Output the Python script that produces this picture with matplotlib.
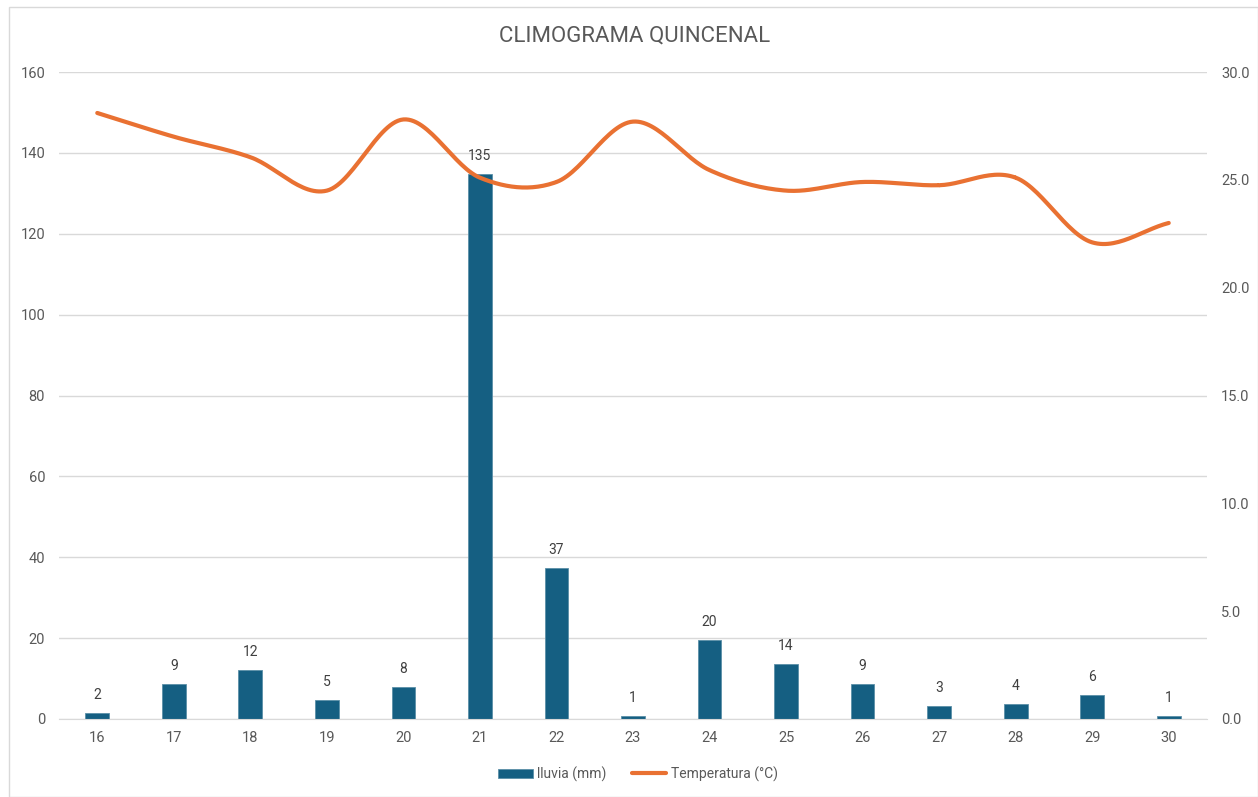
import numpy as np
import matplotlib
matplotlib.use("Agg")
import matplotlib.pyplot as plt
from matplotlib.patches import Rectangle

# datos
dias = ["16", "17", "18", "19", "20", "21", "22", "23", "24", "25", "26", "27", "28", "29", "30"]
lluvia = [1.5, 8.6, 12.0, 4.6, 7.8, 134.8, 37.3, 0.8, 19.5, 13.6, 8.6, 3.2, 3.6, 5.9, 0.8]
temperatura = [28.1, 27.0, 26.05, 24.5, 27.8, 25.1, 24.9, 27.7, 25.45, 24.5, 24.9, 24.75, 25.1, 22.1, 23.0]

azul = "#155F82"
naranja = "#E97132"
gris_txt = "#595959"
gris_lin = "#D9D9D9"

plt.rcParams['font.family'] = ['Roboto', 'DejaVu Sans']


def suavizar(x, y, n=30):
    # curva tipo Catmull-Rom (como la "línea suavizada" de Excel)
    x = np.asarray(x, float)
    y = np.asarray(y, float)
    px = np.concatenate(([2 * x[0] - x[1]], x, [2 * x[-1] - x[-2]]))
    py = np.concatenate(([2 * y[0] - y[1]], y, [2 * y[-1] - y[-2]]))
    xs, ys = [], []
    t = np.linspace(0, 1, n)
    for i in range(1, len(px) - 2):
        for p, out in ((px, xs), (py, ys)):
            p0, p1, p2, p3 = p[i - 1], p[i], p[i + 1], p[i + 2]
            out.extend(0.5 * ((2 * p1) + (-p0 + p2) * t
                              + (2 * p0 - 5 * p1 + 4 * p2 - p3) * t ** 2
                              + (-p0 + 3 * p1 - 3 * p2 + p3) * t ** 3))
    return np.array(xs), np.array(ys)


fig = plt.figure(figsize=(12.58, 7.97), dpi=100)
fig.patches.append(Rectangle((9 / 1258, 0), 1 - 9 / 1258, 1 - 7 / 797, transform=fig.transFigure,
                             fill=False, edgecolor=gris_lin, linewidth=1))

ax = fig.add_axes([59 / 1258, 1 - 719 / 797, 1148 / 1258, 647 / 797])
ax2 = ax.twinx()

x = np.arange(len(dias))
ax.bar(x, lluvia, width=0.31, color=azul, edgecolor="#5B8FA8", linewidth=0.6,
       label="lluvia (mm)", zorder=2)
for xi, v in zip(x, lluvia):
    ax.annotate(f"{v:.0f}", (xi, v), xytext=(0, 8), textcoords="offset points",
                ha="center", va="bottom", fontsize=10, color="#404040")

ax.set_xlim(-0.5, len(dias) - 0.5)
ax.set_ylim(0, 160)
ax.set_yticks(range(0, 161, 20))
ax.set_xticks(x)
ax.set_xticklabels(dias)
ax.grid(axis="y", color=gris_lin, linewidth=1, zorder=0)
ax.set_axisbelow(True)
for s in ["top", "right", "left"]:
    ax.spines[s].set_visible(False)
ax.spines["bottom"].set_color(gris_lin)
ax.tick_params(axis="both", length=0, colors=gris_txt, labelsize=10.5)
ax.tick_params(axis="y", pad=10)
ax.tick_params(axis="x", pad=9)

xs, ys = suavizar(x, temperatura)
ax2.plot(xs, ys, color=naranja, linewidth=3, solid_capstyle="round", label="Temperatura (°C)", zorder=3)
ax2.set_ylim(0, 30)
ax2.set_yticks(np.arange(0, 30.1, 5))
ax2.set_yticklabels([f"{v:.1f}" for v in np.arange(0, 30.1, 5)])
for s in ax2.spines.values():
    s.set_visible(False)
ax2.tick_params(axis="y", length=0, colors=gris_txt, labelsize=10.5, pad=10)

fig.text(635 / 1258, 1 - 36 / 797, "CLIMOGRAMA QUINCENAL", ha="center", va="center",
         fontsize=16, color=gris_txt)

h1, l1 = ax.get_legend_handles_labels()
h2, l2 = ax2.get_legend_handles_labels()
fig.legend(h1 + h2, l1 + l2, loc="center", bbox_to_anchor=(638 / 1258, 1 - 774 / 797), ncol=2,
           frameon=False, fontsize=10, labelcolor=gris_txt, handlelength=2.5,
           handletextpad=0.3, columnspacing=1.8)

fig.savefig("out.png", dpi=100)
